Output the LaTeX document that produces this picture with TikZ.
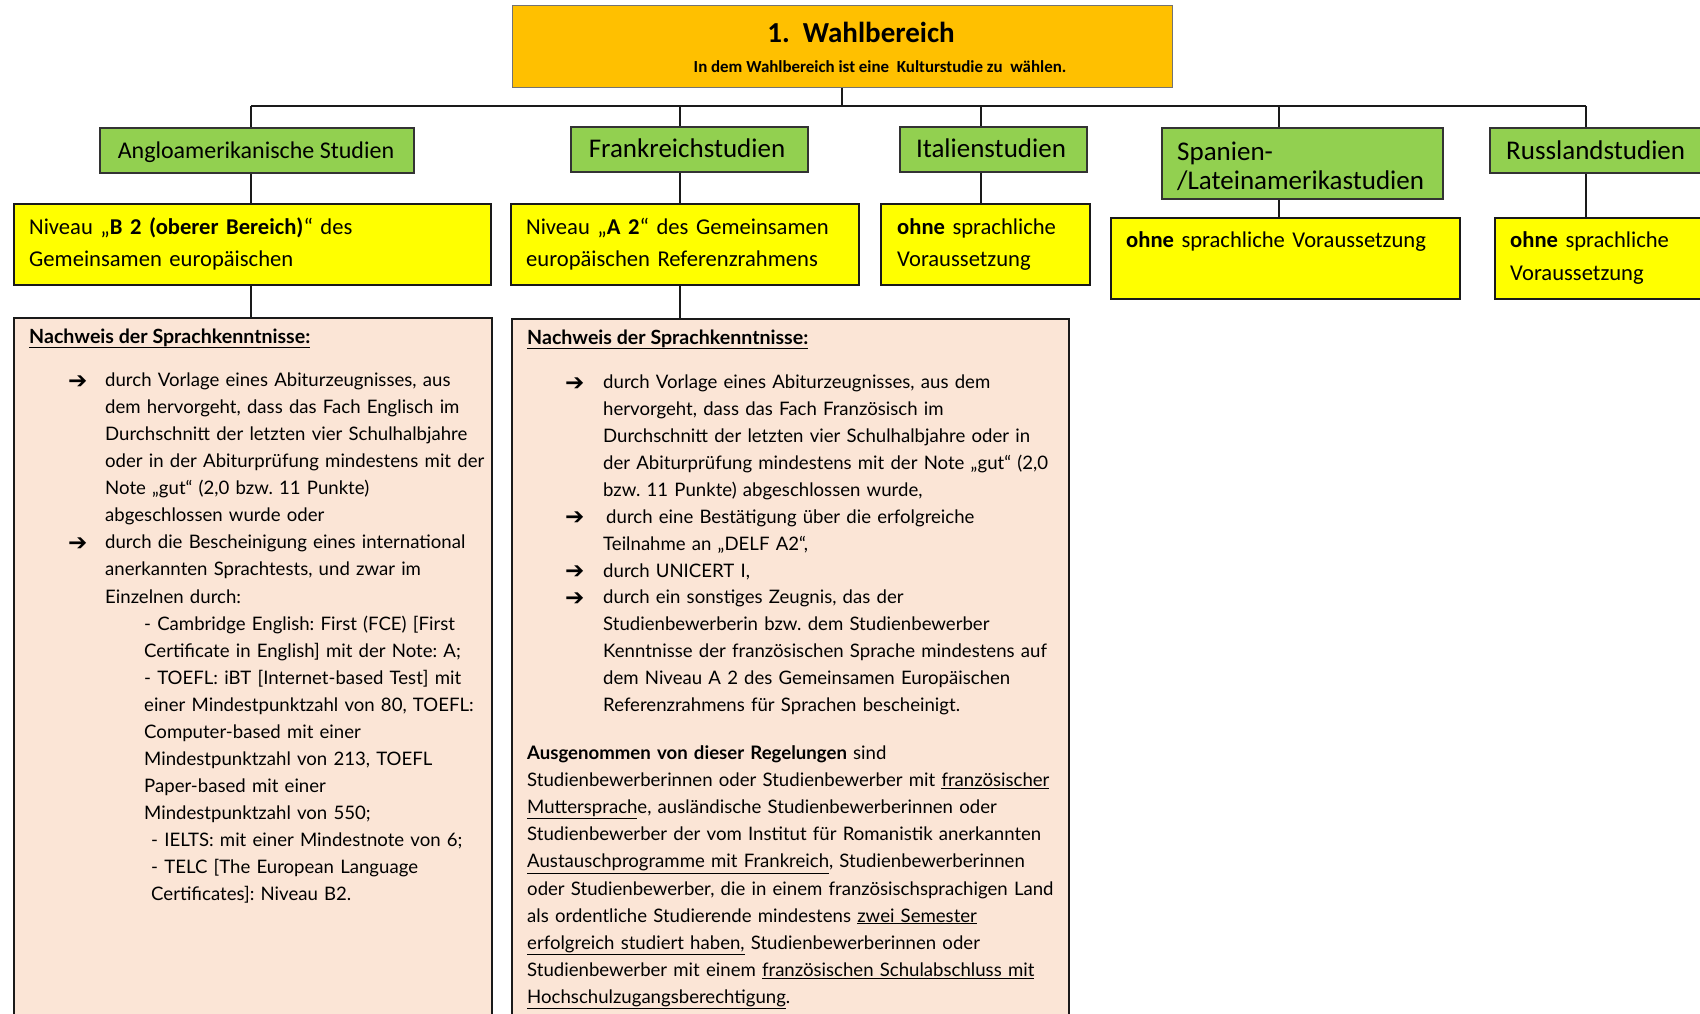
\documentclass[tikz,border=0pt]{standalone}
\usepackage{fontspec}
\setmainfont{Carlito}
\newfontfamily\bodyf{Lato}
\newfontfamily\symf{DejaVu Sans}
\definecolor{titleor}{HTML}{FFC000}
\definecolor{ggreen}{HTML}{92D050}
\definecolor{yyellow}{HTML}{FFFF00}
\definecolor{peach}{HTML}{FBE5D6}
\definecolor{lineblk}{HTML}{1A1A1A}
\frenchspacing
\tikzset{
  boxbase/.style={inner sep=0pt, anchor=north west, line width=1.8pt, draw=lineblk},
  titlebox/.style={boxbase, fill=titleor, draw=black!55, line width=1pt},
  greenbox/.style={boxbase, fill=ggreen, draw=black!80},
  yellowbox/.style={boxbase, fill=yyellow},
  peachbox/.style={boxbase, fill=peach},
  conn/.style={line width=1.6pt, draw=lineblk},
  lbl/.style={inner sep=0pt, anchor=base west},
  clbl/.style={inner sep=0pt, anchor=base},
  greentxt/.style={clbl, font=\fontsize{27}{29}\selectfont},
  yellowtxt/.style={lbl, font=\fontsize{22.6}{32.5}\selectfont, text width=460pt, align=left},
  bodytxt/.style={lbl, font=\bodyf\fontsize{18.6}{27.05}\selectfont, text width=520pt, align=left},
  headtxt/.style={lbl, font=\bodyf\bfseries\fontsize{19.6}{24}\selectfont},
  arrowtxt/.style={lbl, font=\symf\bfseries\fontsize{23}{24}\selectfont},
}
\begin{document}
\begin{tikzpicture}[x=1pt,y=-1pt]
\useasboundingbox (0,0) rectangle (1700,1014);
\clip (0,0) rectangle (1700,1014);
\fill[white] (0,0) rectangle (1700,1014);

% column coordinates
\coordinate (bus) at (842,106);
\coordinate (cA) at (251,106);
\coordinate (cF) at (680,106);
\coordinate (cI) at (981,106);
\coordinate (cS) at (1279,106);
\coordinate (cR) at (1586,106);

% title
\node[titlebox, minimum width=660pt, minimum height=82pt] (title) at (512,5) {};
\node[clbl, font=\bfseries\fontsize{29}{32}\selectfont] (t1) at (861,43) {1.\ \ Wahlbereich};
\node[clbl, font=\bfseries\fontsize{16.9}{18}\selectfont] (t2) at (880,73) {In dem Wahlbereich ist eine\ \ Kulturstudie zu\ \ wählen.};

% green boxes
\node[greenbox, minimum width=314pt, minimum height=45pt] (ag) at (99,127) {};
\node[greenbox, minimum width=237pt, minimum height=45pt] (fg) at (570,126) {};
\node[greenbox, minimum width=187pt, minimum height=45pt] (ig) at (899,126) {};
\node[greenbox, minimum width=281pt, minimum height=71pt] (sg) at (1161,127) {};
\node[greenbox, minimum width=260pt, minimum height=45pt] (rg) at (1489,127) {};

\node[clbl, font=\fontsize{24}{28}\selectfont] (agt) at (256,159) {Angloamerikanische Studien};
\node[greentxt] (fgt) at (687,157.5) {Frankreichstudien};
\node[greentxt] (igt) at (991,157.5) {Italienstudien};
\node[lbl, font=\fontsize{27}{29}\selectfont, text width=270pt, align=left] (sgt) at (1177,160.5) {Spanien-\\/Lateinamerikastudien};
\node[lbl, font=\fontsize{27}{29}\selectfont] (rgt) at (1506,159.5) {Russlandstudien};

% yellow boxes
\node[yellowbox, minimum width=477pt, minimum height=81pt] (ay) at (13,203) {};
\node[yellowbox, minimum width=348pt, minimum height=81pt] (fy) at (510,203) {};
\node[yellowbox, minimum width=209pt, minimum height=81pt] (iy) at (880,203) {};
\node[yellowbox, minimum width=349pt, minimum height=81pt] (sy) at (1110,217) {};
\node[yellowbox, minimum width=260pt, minimum height=81pt] (ry) at (1494,217) {};

\node[yellowtxt] (ayt) at (29,234) {Niveau „\textbf{B 2 (oberer Bereich)}“ des\\Gemeinsamen europäischen};
\node[yellowtxt] (fyt) at (526,234) {Niveau „\textbf{A 2}“ des Gemeinsamen\\europäischen Referenzrahmens};
\node[yellowtxt] (iyt) at (897,234) {\textbf{ohne} sprachliche\\Voraussetzung};
\node[yellowtxt] (syt) at (1126,247) {\textbf{ohne} sprachliche Voraussetzung};
\node[yellowtxt, font=\fontsize{22.6}{33.5}\selectfont] (ryt) at (1510,247) {\textbf{ohne} sprachliche\\Voraussetzung};

% peach boxes
\node[peachbox, minimum width=478pt, minimum height=720pt] (ap) at (13,317) {};
\node[peachbox, minimum width=557pt, minimum height=720pt] (fp) at (511,318) {};

% connectors
\draw[conn] (title.south -| bus) -- (bus);
\draw[conn] (cA) -- (cR);
\draw[conn] (cA) -- (cA |- ag.north);
\draw[conn] (cF) -- (cF |- fg.north);
\draw[conn] (cI) -- (cI |- ig.north);
\draw[conn] (cS) -- (cS |- sg.north);
\draw[conn] (cR) -- (cR |- rg.north);
\draw[conn] (cA |- ag.south) -- (cA |- ay.north);
\draw[conn] (cF |- fg.south) -- (cF |- fy.north);
\draw[conn] (cI |- ig.south) -- (cI |- iy.north);
\draw[conn] (cS |- sg.south) -- (cS |- sy.north);
\draw[conn] (cR |- rg.south) -- (cR |- ry.north);
\draw[conn] (cA |- ay.south) -- (cA |- ap.north);
\draw[conn] (cF |- fy.south) -- (cF |- fp.north);

% Anglo body
\node[headtxt] (ah) at (29,343) {\underline{Nachweis der Sprachkenntnisse:}};
\node[arrowtxt] (aa1) at (68,388) {➔};
\node[bodytxt] (ai1) at (105,386.6) {durch Vorlage eines Abiturzeugnisses, aus\\
dem hervorgeht, dass das Fach Englisch im\\
Durchschnitt der letzten vier Schulhalbjahre\\
oder in der Abiturprüfung mindestens mit der\\
Note „gut“ (2,0 bzw. 11 Punkte)\\
abgeschlossen wurde oder};
\node[arrowtxt] (aa2) at (68,550.3) {➔};
\node[bodytxt] (ai2) at (105,548.9) {durch die Bescheinigung eines international\\
anerkannten Sprachtests, und zwar im\\
Einzelnen durch:};
\node[bodytxt] (asub) at (144,630) {- Cambridge English: First (FCE) [First\\
Certificate in English] mit der Note: A;\\
- TOEFL: iBT [Internet-based Test] mit\\
einer Mindestpunktzahl von 80, TOEFL:\\
Computer-based mit einer\\
Mindestpunktzahl von 213, TOEFL\\
Paper-based mit einer\\
Mindestpunktzahl von 550;\\
\hspace*{7pt}- IELTS: mit einer Mindestnote von 6;\\
\hspace*{7pt}- TELC [The European Language\\
\hspace*{7pt}Certificates]: Niveau B2.};

% Frank body
\node[headtxt] (fh) at (527,344) {\underline{Nachweis der Sprachkenntnisse:}};
\node[arrowtxt] (fa1) at (565,390.1) {➔};
\node[bodytxt, font=\bodyf\fontsize{18.6}{26.9}\selectfont] (fi1) at (603,388.7) {durch Vorlage eines Abiturzeugnisses, aus dem\\
hervorgeht, dass das Fach Französisch im\\
Durchschnitt der letzten vier Schulhalbjahre oder in\\
der Abiturprüfung mindestens mit der Note „gut“ (2,0\\
bzw. 11 Punkte) abgeschlossen wurde,};
\node[arrowtxt] (fa2) at (565,524.6) {➔};
\node[bodytxt, font=\bodyf\fontsize{18.6}{26.9}\selectfont] (fi2) at (603,523.2) {\hspace*{3pt}durch eine Bestätigung über die erfolgreiche\\
Teilnahme an „DELF A2“,};
\node[arrowtxt] (fa3) at (565,578.4) {➔};
\node[bodytxt] (fi3) at (603,577) {durch UNICERT I,};
\node[arrowtxt] (fa4) at (565,605.3) {➔};
\node[bodytxt, font=\bodyf\fontsize{18.6}{26.9}\selectfont] (fi4) at (603,603.9) {durch ein sonstiges Zeugnis, das der\\
Studienbewerberin bzw. dem Studienbewerber\\
Kenntnisse der französischen Sprache mindestens auf\\
dem Niveau A 2 des Gemeinsamen Europäischen\\
Referenzrahmens für Sprachen bescheinigt.};
\node[bodytxt, font=\bodyf\fontsize{18.6}{27.1}\selectfont, text width=560pt] (fpar) at (527,759.5) {\textbf{Ausgenommen von dieser Regelungen} sind\\
Studienbewerberinnen oder Studienbewerber mit \underline{französischer}\\
\underline{Muttersprach}e, ausländische Studienbewerberinnen oder\\
Studienbewerber der vom Institut für Romanistik anerkannten\\
\underline{Austauschprogramme mit Frankreich}, Studienbewerberinnen\\
oder Studienbewerber, die in einem französischsprachigen Land\\
als ordentliche Studierende mindestens \underline{zwei Semester}\\
\underline{erfolgreich studiert haben,} Studienbewerberinnen oder\\
Studienbewerber mit einem \underline{französischen Schulabschluss mit}\\
\underline{Hochschulzugangsberechtigung}.};
\end{tikzpicture}
\end{document}
